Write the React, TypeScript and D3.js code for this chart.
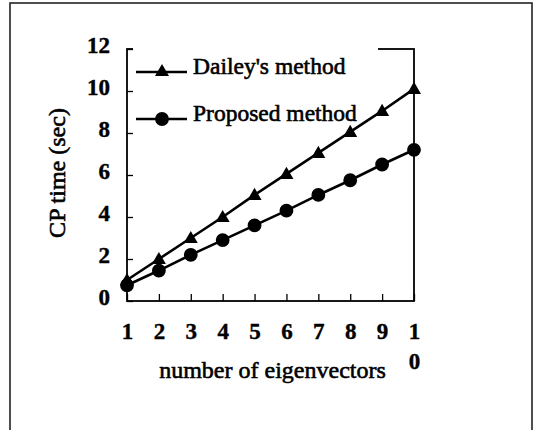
import React, { useEffect, useRef } from 'react';
import * as d3 from 'd3';

const eigenvectors = [1, 2, 3, 4, 5, 6, 7, 8, 9, 10];
const daileyTimes = [1.0, 2.0, 3.0, 4.0, 5.05, 6.05, 7.05, 8.05, 9.05, 10.1];
const proposedTimes = [0.75, 1.45, 2.2, 2.9, 3.6, 4.3, 5.05, 5.75, 6.5, 7.2];
const yTicks = [0, 2, 4, 6, 8, 10, 12];
const seriesNames = ["Dailey's method", 'Proposed method'];

const FONT = "'Liberation Serif', 'Times New Roman', serif";

export default function App() {
  const svgRef = useRef<SVGSVGElement>(null);

  useEffect(() => {
    if (!svgRef.current) return;
    const width = 537;
    const height = 430;
    const margin = { top: 49, right: 123, bottom: 129, left: 127 };
    const innerWidth = width - margin.left - margin.right;
    const innerHeight = height - margin.top - margin.bottom;

    const svg = d3.select(svgRef.current);
    svg.selectAll('*').remove();
    svg.attr('width', width).attr('height', height);

    svg.append('rect').attr('width', width).attr('height', height).attr('fill', '#fff');

    // outer frame
    svg
      .append('rect')
      .attr('x', 10)
      .attr('y', 3)
      .attr('width', 522)
      .attr('height', 440)
      .attr('fill', 'none')
      .attr('stroke', '#222')
      .attr('stroke-width', 1.6);

    const g = svg.append('g').attr('transform', `translate(${margin.left},${margin.top})`);

    const x = d3.scaleLinear().domain([1, 10]).range([0, innerWidth]);
    const y = d3.scaleLinear().domain([0, 12]).range([innerHeight, 0]);

    // plot frame
    g.append('rect')
      .attr('width', innerWidth)
      .attr('height', innerHeight)
      .attr('fill', 'none')
      .attr('stroke', '#000')
      .attr('stroke-width', 1.8);

    // y axis
    const yAxis = g.append('g').call(d3.axisLeft(y).tickValues(yTicks).tickSize(-6).tickPadding(17));
    yAxis.select('.domain').remove();
    yAxis.selectAll('line').attr('stroke', '#000').attr('stroke-width', 1.3);
    yAxis
      .selectAll('text')
      .attr('font-family', FONT)
      .attr('font-size', 23)
      .attr('font-weight', 'bold')
      .attr('fill', '#000')
      .attr('stroke', '#000')
      .attr('stroke-width', 0.4)
      .attr('dy', '0.15em');

    // x axis
    const xAxis = g
      .append('g')
      .attr('transform', `translate(0,${innerHeight})`)
      .call(d3.axisBottom(x).tickValues(eigenvectors).tickSize(-7).tickFormat(() => ''));
    xAxis.select('.domain').remove();
    xAxis.selectAll('line').attr('stroke', '#000').attr('stroke-width', 1.3);
    xAxis
      .selectAll('.tick')
      .append('text')
      .attr('font-family', FONT)
      .attr('font-size', 23)
      .attr('font-weight', 'bold')
      .attr('fill', '#000')
      .attr('stroke', '#000')
      .attr('stroke-width', 0.4)
      .attr('text-anchor', 'middle')
      .each(function (d) {
        const chars = String(d).split('');
        d3.select(this)
          .selectAll('tspan')
          .data(chars)
          .join('tspan')
          .attr('x', 0)
          .attr('y', (_, i) => 38 + i * 30)
          .text((c) => c);
      });

    // legend background covers top frame
    const legend = g.append('g');
    legend
      .append('rect')
      .attr('x', 6)
      .attr('y', -10)
      .attr('width', 245)
      .attr('height', 50)
      .attr('fill', '#fff');

    // lines
    const line = d3
      .line<number>()
      .x((_, i) => x(eigenvectors[i]))
      .y((d) => y(d));

    [daileyTimes, proposedTimes].forEach((series) => {
      g.append('path')
        .datum(series)
        .attr('fill', 'none')
        .attr('stroke', '#000')
        .attr('stroke-width', 2.6)
        .attr('d', line);
    });

    const tri = d3.symbol().type(d3.symbolTriangle).size(85);
    const circ = d3.symbol().type(d3.symbolCircle).size(150);

    g.selectAll('.tri')
      .data(daileyTimes)
      .join('path')
      .attr('class', 'tri')
      .attr('transform', (d, i) => `translate(${x(eigenvectors[i])},${y(d) + 1})`)
      .attr('d', tri)
      .attr('fill', '#000');

    g.selectAll('.circ')
      .data(proposedTimes)
      .join('path')
      .attr('class', 'circ')
      .attr('transform', (d, i) => `translate(${x(eigenvectors[i])},${y(d)})`)
      .attr('d', circ)
      .attr('fill', '#000');

    // legend items
    const legendRows = [
      { name: seriesNames[0], sym: tri, y: 23 },
      { name: seriesNames[1], sym: circ, y: 70 },
    ];
    legendRows.forEach((row) => {
      legend
        .append('line')
        .attr('x1', 9)
        .attr('x2', 60)
        .attr('y1', row.y)
        .attr('y2', row.y)
        .attr('stroke', '#000')
        .attr('stroke-width', 2.6);
      legend
        .append('path')
        .attr('transform', `translate(35,${row.y})`)
        .attr('d', row.sym)
        .attr('fill', '#000');
      legend
        .append('text')
        .attr('x', 66)
        .attr('y', row.y + 2)
        .attr('font-family', FONT)
        .attr('font-size', 23.5)
        .attr('fill', '#000')
        .attr('stroke', '#000')
        .attr('stroke-width', 0.6)
        .text(row.name);
    });

    // axis titles
    g.append('text')
      .attr('x', innerWidth / 2 + 2)
      .attr('y', innerHeight + 77)
      .attr('text-anchor', 'middle')
      .attr('font-family', FONT)
      .attr('font-size', 24)
      .attr('fill', '#000')
      .attr('stroke', '#000')
      .attr('stroke-width', 0.6)
      .text('number of eigenvectors');

    g.append('text')
      .attr('transform', `translate(${-62},${innerHeight / 2 - 2}) rotate(-90)`)
      .attr('text-anchor', 'middle')
      .attr('font-family', FONT)
      .attr('font-size', 24)
      .attr('fill', '#000')
      .attr('stroke', '#000')
      .attr('stroke-width', 0.6)
      .text('CP time (sec)');
  }, []);

  return <svg ref={svgRef} style={{ position: 'absolute', left: 0, top: 0 }} />;
}
